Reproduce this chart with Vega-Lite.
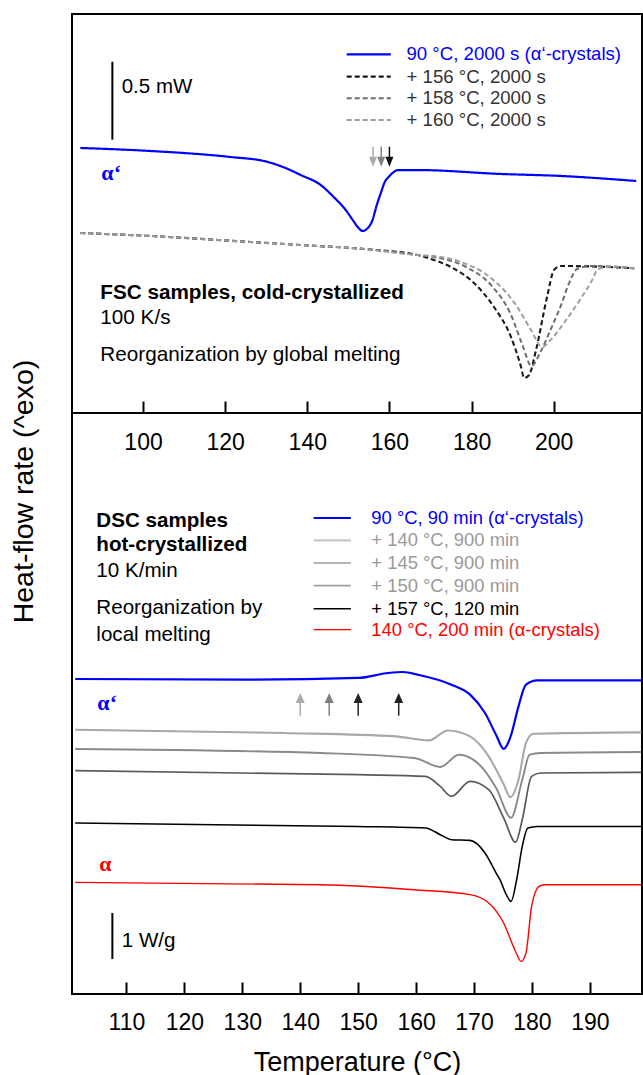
{
  "$schema": "https://vega.github.io/schema/vega-lite/v6.json",
  "background": "white",
  "padding": {"left": 7, "top": 13, "right": 0, "bottom": 0},
  "spacing": 0,
  "bounds": "flush",
  "config": {
    "view": {"stroke": "black", "strokeWidth": 2},
    "font": "Liberation Sans",
    "axisX": {"domain": false, "grid": false, "tickSize": -12, "tickWidth": 2, "tickColor": "black", "labelFontSize": 23, "labelFont": "Liberation Sans", "labelColor": "black", "labelPadding": 30, "labelFlush": false, "labelOverlap": false, "titleFontSize": 27, "titleFontWeight": "normal", "titleFont": "Liberation Sans", "titleColor": "black", "titleY": 76, "titleBaseline": "alphabetic"},
    "axisY": {"labels": false, "ticks": false, "domain": false, "grid": false, "titleFontSize": 28.5, "titleFontWeight": "normal", "titleFont": "Liberation Sans", "titleColor": "black", "titleAngle": 270, "titleAlign": "center", "titleBaseline": "alphabetic", "titleX": -40, "titleY": 78}
  },
  "datasets": {
    "fsc": [
      {"s": "90 °C, 2000 s (α‘-crystals)", "T": 84.72, "q": 2.906},
      {"s": "90 °C, 2000 s (α‘-crystals)", "T": 101.8, "q": 2.873},
      {"s": "90 °C, 2000 s (α‘-crystals)", "T": 121.31, "q": 2.807},
      {"s": "90 °C, 2000 s (α‘-crystals)", "T": 129.9, "q": 2.758},
      {"s": "90 °C, 2000 s (α‘-crystals)", "T": 134.72, "q": 2.686},
      {"s": "90 °C, 2000 s (α‘-crystals)", "T": 138.38, "q": 2.61},
      {"s": "90 °C, 2000 s (α‘-crystals)", "T": 143.26, "q": 2.5},
      {"s": "90 °C, 2000 s (α‘-crystals)", "T": 146.43, "q": 2.368},
      {"s": "90 °C, 2000 s (α‘-crystals)", "T": 149.36, "q": 2.226},
      {"s": "90 °C, 2000 s (α‘-crystals)", "T": 151.07, "q": 2.116},
      {"s": "90 °C, 2000 s (α‘-crystals)", "T": 152.29, "q": 2.039},
      {"s": "90 °C, 2000 s (α‘-crystals)", "T": 153.43, "q": 1.996},
      {"s": "90 °C, 2000 s (α‘-crystals)", "T": 154.48, "q": 2.018},
      {"s": "90 °C, 2000 s (α‘-crystals)", "T": 155.87, "q": 2.116},
      {"s": "90 °C, 2000 s (α‘-crystals)", "T": 156.92, "q": 2.281},
      {"s": "90 °C, 2000 s (α‘-crystals)", "T": 157.9, "q": 2.412},
      {"s": "90 °C, 2000 s (α‘-crystals)", "T": 158.87, "q": 2.533},
      {"s": "90 °C, 2000 s (α‘-crystals)", "T": 159.85, "q": 2.591},
      {"s": "90 °C, 2000 s (α‘-crystals)", "T": 161.07, "q": 2.643},
      {"s": "90 °C, 2000 s (α‘-crystals)", "T": 162.04, "q": 2.664},
      {"s": "90 °C, 2000 s (α‘-crystals)", "T": 166.92, "q": 2.664},
      {"s": "90 °C, 2000 s (α‘-crystals)", "T": 187.16, "q": 2.621},
      {"s": "90 °C, 2000 s (α‘-crystals)", "T": 201.8, "q": 2.599},
      {"s": "90 °C, 2000 s (α‘-crystals)", "T": 220.09, "q": 2.544},
      {"s": "+ 156 °C, 2000 s", "T": 84.72, "q": 1.974},
      {"s": "+ 156 °C, 2000 s", "T": 101.8, "q": 1.941},
      {"s": "+ 156 °C, 2000 s", "T": 126.19, "q": 1.875},
      {"s": "+ 156 °C, 2000 s", "T": 138.38, "q": 1.842},
      {"s": "+ 156 °C, 2000 s", "T": 154.65, "q": 1.795},
      {"s": "+ 156 °C, 2000 s", "T": 166.85, "q": 1.732},
      {"s": "+ 156 °C, 2000 s", "T": 170.82, "q": 1.678},
      {"s": "+ 156 °C, 2000 s", "T": 174.97, "q": 1.601},
      {"s": "+ 156 °C, 2000 s", "T": 180.58, "q": 1.425},
      {"s": "+ 156 °C, 2000 s", "T": 185.46, "q": 1.162},
      {"s": "+ 156 °C, 2000 s", "T": 189.6, "q": 0.833},
      {"s": "+ 156 °C, 2000 s", "T": 192.05, "q": 0.504},
      {"s": "+ 156 °C, 2000 s", "T": 192.78, "q": 0.384},
      {"s": "+ 156 °C, 2000 s", "T": 193.99, "q": 0.417},
      {"s": "+ 156 °C, 2000 s", "T": 195.7, "q": 0.691},
      {"s": "+ 156 °C, 2000 s", "T": 198.38, "q": 1.272},
      {"s": "+ 156 °C, 2000 s", "T": 200.09, "q": 1.568},
      {"s": "+ 156 °C, 2000 s", "T": 201.8, "q": 1.612},
      {"s": "+ 156 °C, 2000 s", "T": 211.55, "q": 1.604},
      {"s": "+ 156 °C, 2000 s", "T": 219.6, "q": 1.587},
      {"s": "+ 158 °C, 2000 s", "T": 84.72, "q": 1.974},
      {"s": "+ 158 °C, 2000 s", "T": 101.8, "q": 1.941},
      {"s": "+ 158 °C, 2000 s", "T": 126.19, "q": 1.875},
      {"s": "+ 158 °C, 2000 s", "T": 138.38, "q": 1.842},
      {"s": "+ 158 °C, 2000 s", "T": 154.65, "q": 1.795},
      {"s": "+ 158 °C, 2000 s", "T": 166.85, "q": 1.732},
      {"s": "+ 158 °C, 2000 s", "T": 170.82, "q": 1.711},
      {"s": "+ 158 °C, 2000 s", "T": 179.11, "q": 1.59},
      {"s": "+ 158 °C, 2000 s", "T": 184.72, "q": 1.404},
      {"s": "+ 158 °C, 2000 s", "T": 189.6, "q": 1.075},
      {"s": "+ 158 °C, 2000 s", "T": 192.38, "q": 0.746},
      {"s": "+ 158 °C, 2000 s", "T": 194.58, "q": 0.515},
      {"s": "+ 158 °C, 2000 s", "T": 196.77, "q": 0.669},
      {"s": "+ 158 °C, 2000 s", "T": 199.21, "q": 0.91},
      {"s": "+ 158 °C, 2000 s", "T": 201.8, "q": 1.184},
      {"s": "+ 158 °C, 2000 s", "T": 203.75, "q": 1.425},
      {"s": "+ 158 °C, 2000 s", "T": 205.7, "q": 1.579},
      {"s": "+ 158 °C, 2000 s", "T": 209.11, "q": 1.612},
      {"s": "+ 158 °C, 2000 s", "T": 219.6, "q": 1.587},
      {"s": "+ 160 °C, 2000 s", "T": 84.72, "q": 1.974},
      {"s": "+ 160 °C, 2000 s", "T": 101.8, "q": 1.941},
      {"s": "+ 160 °C, 2000 s", "T": 126.19, "q": 1.875},
      {"s": "+ 160 °C, 2000 s", "T": 138.38, "q": 1.842},
      {"s": "+ 160 °C, 2000 s", "T": 154.65, "q": 1.795},
      {"s": "+ 160 °C, 2000 s", "T": 166.85, "q": 1.732},
      {"s": "+ 160 °C, 2000 s", "T": 170.82, "q": 1.721},
      {"s": "+ 160 °C, 2000 s", "T": 177.41, "q": 1.656},
      {"s": "+ 160 °C, 2000 s", "T": 184.72, "q": 1.48},
      {"s": "+ 160 °C, 2000 s", "T": 190.82, "q": 1.184},
      {"s": "+ 160 °C, 2000 s", "T": 194.48, "q": 0.91},
      {"s": "+ 160 °C, 2000 s", "T": 197.16, "q": 0.724},
      {"s": "+ 160 °C, 2000 s", "T": 199.21, "q": 0.8},
      {"s": "+ 160 °C, 2000 s", "T": 203.02, "q": 1.02},
      {"s": "+ 160 °C, 2000 s", "T": 206.68, "q": 1.261},
      {"s": "+ 160 °C, 2000 s", "T": 209.11, "q": 1.436},
      {"s": "+ 160 °C, 2000 s", "T": 210.82, "q": 1.579},
      {"s": "+ 160 °C, 2000 s", "T": 213.99, "q": 1.606},
      {"s": "+ 160 °C, 2000 s", "T": 219.6, "q": 1.587}
    ],
    "fscLegend": [
      {"s": "90 °C, 2000 s (α‘-crystals)", "T1": 149.6, "T2": 160.33, "Tt": 164.16, "q": 3.933},
      {"s": "+ 156 °C, 2000 s", "T1": 149.6, "T2": 160.33, "Tt": 164.16, "q": 3.688},
      {"s": "+ 158 °C, 2000 s", "T1": 149.6, "T2": 160.33, "Tt": 164.16, "q": 3.451},
      {"s": "+ 160 °C, 2000 s", "T1": 149.6, "T2": 160.33, "Tt": 164.16, "q": 3.213}
    ],
    "dsc": [
      {"s": "90 °C, 90 min (α‘-crystals)", "T": 101.15, "q": 6.848},
      {"s": "90 °C, 90 min (α‘-crystals)", "T": 130.74, "q": 6.833},
      {"s": "90 °C, 90 min (α‘-crystals)", "T": 150.03, "q": 6.87},
      {"s": "90 °C, 90 min (α‘-crystals)", "T": 155.17, "q": 6.978},
      {"s": "90 °C, 90 min (α‘-crystals)", "T": 157.75, "q": 7.0},
      {"s": "90 °C, 90 min (α‘-crystals)", "T": 160.32, "q": 6.941},
      {"s": "90 °C, 90 min (α‘-crystals)", "T": 166.1, "q": 6.724},
      {"s": "90 °C, 90 min (α‘-crystals)", "T": 169.32, "q": 6.507},
      {"s": "90 °C, 90 min (α‘-crystals)", "T": 171.9, "q": 6.109},
      {"s": "90 °C, 90 min (α‘-crystals)", "T": 173.82, "q": 5.63},
      {"s": "90 °C, 90 min (α‘-crystals)", "T": 175.12, "q": 5.33},
      {"s": "90 °C, 90 min (α‘-crystals)", "T": 175.74, "q": 5.42},
      {"s": "90 °C, 90 min (α‘-crystals)", "T": 176.4, "q": 5.63},
      {"s": "90 °C, 90 min (α‘-crystals)", "T": 177.68, "q": 6.252},
      {"s": "90 °C, 90 min (α‘-crystals)", "T": 178.97, "q": 6.724},
      {"s": "90 °C, 90 min (α‘-crystals)", "T": 180.89, "q": 6.817},
      {"s": "90 °C, 90 min (α‘-crystals)", "T": 198.9, "q": 6.817},
      {"s": "+ 140 °C, 900 min", "T": 101.15, "q": 5.746},
      {"s": "+ 140 °C, 900 min", "T": 137.16, "q": 5.674},
      {"s": "+ 140 °C, 900 min", "T": 156.47, "q": 5.6},
      {"s": "+ 140 °C, 900 min", "T": 162.24, "q": 5.513},
      {"s": "+ 140 °C, 900 min", "T": 165.46, "q": 5.73},
      {"s": "+ 140 °C, 900 min", "T": 169.32, "q": 5.6},
      {"s": "+ 140 °C, 900 min", "T": 172.54, "q": 5.165},
      {"s": "+ 140 °C, 900 min", "T": 175.12, "q": 4.56},
      {"s": "+ 140 °C, 900 min", "T": 176.26, "q": 4.28},
      {"s": "+ 140 °C, 900 min", "T": 177.68, "q": 4.659},
      {"s": "+ 140 °C, 900 min", "T": 178.97, "q": 5.457},
      {"s": "+ 140 °C, 900 min", "T": 180.25, "q": 5.659},
      {"s": "+ 140 °C, 900 min", "T": 198.9, "q": 5.687},
      {"s": "+ 145 °C, 900 min", "T": 101.15, "q": 5.326},
      {"s": "+ 145 °C, 900 min", "T": 143.59, "q": 5.239},
      {"s": "+ 145 °C, 900 min", "T": 159.68, "q": 5.13},
      {"s": "+ 145 °C, 900 min", "T": 164.18, "q": 4.935},
      {"s": "+ 145 °C, 900 min", "T": 167.4, "q": 5.202},
      {"s": "+ 145 °C, 900 min", "T": 170.62, "q": 5.022},
      {"s": "+ 145 °C, 900 min", "T": 173.82, "q": 4.48},
      {"s": "+ 145 °C, 900 min", "T": 176.4, "q": 3.83},
      {"s": "+ 145 °C, 900 min", "T": 178.33, "q": 4.659},
      {"s": "+ 145 °C, 900 min", "T": 179.61, "q": 5.202},
      {"s": "+ 145 °C, 900 min", "T": 181.55, "q": 5.239},
      {"s": "+ 145 °C, 900 min", "T": 198.9, "q": 5.261},
      {"s": "+ 150 °C, 900 min", "T": 101.15, "q": 4.854},
      {"s": "+ 150 °C, 900 min", "T": 150.03, "q": 4.767},
      {"s": "+ 150 °C, 900 min", "T": 161.6, "q": 4.73},
      {"s": "+ 150 °C, 900 min", "T": 164.18, "q": 4.513},
      {"s": "+ 150 °C, 900 min", "T": 166.1, "q": 4.296},
      {"s": "+ 150 °C, 900 min", "T": 169.32, "q": 4.622},
      {"s": "+ 150 °C, 900 min", "T": 172.54, "q": 4.441},
      {"s": "+ 150 °C, 900 min", "T": 175.12, "q": 3.83},
      {"s": "+ 150 °C, 900 min", "T": 177.17, "q": 3.3},
      {"s": "+ 150 °C, 900 min", "T": 178.33, "q": 3.789},
      {"s": "+ 150 °C, 900 min", "T": 179.94, "q": 4.73},
      {"s": "+ 150 °C, 900 min", "T": 181.55, "q": 4.804},
      {"s": "+ 150 °C, 900 min", "T": 198.9, "q": 4.817},
      {"s": "+ 157 °C, 120 min", "T": 101.15, "q": 3.717},
      {"s": "+ 157 °C, 120 min", "T": 150.03, "q": 3.643},
      {"s": "+ 157 °C, 120 min", "T": 161.6, "q": 3.609},
      {"s": "+ 157 °C, 120 min", "T": 164.18, "q": 3.463},
      {"s": "+ 157 °C, 120 min", "T": 166.1, "q": 3.354},
      {"s": "+ 157 °C, 120 min", "T": 169.32, "q": 3.339},
      {"s": "+ 157 °C, 120 min", "T": 171.9, "q": 3.065},
      {"s": "+ 157 °C, 120 min", "T": 173.82, "q": 2.63},
      {"s": "+ 157 °C, 120 min", "T": 174.48, "q": 2.485},
      {"s": "+ 157 °C, 120 min", "T": 175.57, "q": 2.159},
      {"s": "+ 157 °C, 120 min", "T": 176.4, "q": 2.013},
      {"s": "+ 157 °C, 120 min", "T": 177.36, "q": 2.485},
      {"s": "+ 157 °C, 120 min", "T": 178.33, "q": 3.209},
      {"s": "+ 157 °C, 120 min", "T": 179.3, "q": 3.609},
      {"s": "+ 157 °C, 120 min", "T": 180.89, "q": 3.643},
      {"s": "+ 157 °C, 120 min", "T": 198.9, "q": 3.643},
      {"s": "140 °C, 200 min (α-crystals)", "T": 101.15, "q": 2.426},
      {"s": "140 °C, 200 min (α-crystals)", "T": 143.56, "q": 2.376},
      {"s": "140 °C, 200 min (α-crystals)", "T": 159.65, "q": 2.267},
      {"s": "140 °C, 200 min (α-crystals)", "T": 169.34, "q": 2.159},
      {"s": "140 °C, 200 min (α-crystals)", "T": 172.54, "q": 1.978},
      {"s": "140 °C, 200 min (α-crystals)", "T": 175.12, "q": 1.543},
      {"s": "140 °C, 200 min (α-crystals)", "T": 177.04, "q": 0.963},
      {"s": "140 °C, 200 min (α-crystals)", "T": 178.14, "q": 0.709},
      {"s": "140 °C, 200 min (α-crystals)", "T": 178.97, "q": 0.891},
      {"s": "140 °C, 200 min (α-crystals)", "T": 179.94, "q": 1.904},
      {"s": "140 °C, 200 min (α-crystals)", "T": 181.22, "q": 2.339},
      {"s": "140 °C, 200 min (α-crystals)", "T": 182.19, "q": 2.376},
      {"s": "140 °C, 200 min (α-crystals)", "T": 198.9, "q": 2.376}
    ],
    "dscLegend": [
      {"s": "90 °C, 90 min (α‘-crystals)", "T1": 142.31, "T2": 148.75, "Tt": 152.28, "q": 10.348},
      {"s": "+ 140 °C, 900 min", "T1": 142.31, "T2": 148.75, "Tt": 152.28, "q": 9.861},
      {"s": "+ 145 °C, 900 min", "T1": 142.31, "T2": 148.75, "Tt": 152.28, "q": 9.37},
      {"s": "+ 150 °C, 900 min", "T1": 142.31, "T2": 148.75, "Tt": 152.28, "q": 8.876},
      {"s": "+ 157 °C, 120 min", "T1": 142.31, "T2": 148.75, "Tt": 152.28, "q": 8.376},
      {"s": "140 °C, 200 min (α-crystals)", "T1": 142.31, "T2": 148.75, "Tt": 152.28, "q": 7.92}
    ]
  },
  "vconcat": [
    {
      "width": 570,
      "height": 399,
      "resolve": {"scale": {"color": "independent", "fill": "independent", "strokeDash": "independent", "strokeWidth": "independent"}},
      "layer": [
        {
          "data": {"name": "fsc"},
          "mark": {"type": "line", "interpolate": "monotone"},
          "encoding": {
            "x": {"field": "T", "type": "quantitative", "title": null, "scale": {"domain": [82.7, 221.5], "nice": false}, "axis": {"values": [100, 120, 140, 160, 180, 200]}},
            "y": {"field": "q", "type": "quantitative", "title": null, "scale": {"domain": [0, 4.375], "nice": false}},
            "color": {"field": "s", "type": "nominal", "scale": {"domain": ["90 °C, 2000 s (α‘-crystals)", "+ 156 °C, 2000 s", "+ 158 °C, 2000 s", "+ 160 °C, 2000 s"], "range": ["#0000ff", "#1a1a1a", "#6e6e6e", "#9c9c9c"]}, "legend": null},
            "strokeDash": {"field": "s", "type": "nominal", "scale": {"domain": ["90 °C, 2000 s (α‘-crystals)", "+ 156 °C, 2000 s", "+ 158 °C, 2000 s", "+ 160 °C, 2000 s"], "range": [[1, 0], [5, 3], [5, 3], [5, 3]]}, "legend": null},
            "strokeWidth": {"field": "s", "type": "ordinal", "scale": {"domain": ["90 °C, 2000 s (α‘-crystals)", "+ 156 °C, 2000 s", "+ 158 °C, 2000 s", "+ 160 °C, 2000 s"], "range": [2.2, 1.9, 1.8, 1.8]}, "legend": null}
          }
        },
        {
          "data": {"name": "fscLegend"},
          "mark": {"type": "rule"},
          "encoding": {
            "x": {"field": "T1", "type": "quantitative", "title": null, "scale": {"domain": [82.7, 221.5], "nice": false}},
            "x2": {"field": "T2"},
            "y": {"field": "q", "type": "quantitative", "title": null, "scale": {"domain": [0, 4.375], "nice": false}},
            "color": {"field": "s", "type": "nominal", "scale": {"domain": ["90 °C, 2000 s (α‘-crystals)", "+ 156 °C, 2000 s", "+ 158 °C, 2000 s", "+ 160 °C, 2000 s"], "range": ["#0000ff", "#1a1a1a", "#6e6e6e", "#9c9c9c"]}, "legend": null},
            "strokeDash": {"field": "s", "type": "nominal", "scale": {"domain": ["90 °C, 2000 s (α‘-crystals)", "+ 156 °C, 2000 s", "+ 158 °C, 2000 s", "+ 160 °C, 2000 s"], "range": [[1, 0], [5, 3], [5, 3], [5, 3]]}, "legend": null},
            "strokeWidth": {"field": "s", "type": "ordinal", "scale": {"domain": ["90 °C, 2000 s (α‘-crystals)", "+ 156 °C, 2000 s", "+ 158 °C, 2000 s", "+ 160 °C, 2000 s"], "range": [2.2, 1.9, 1.8, 1.8]}, "legend": null}
          }
        },
        {
          "data": {"name": "fscLegend"},
          "mark": {"type": "text", "align": "left", "baseline": "middle", "fontSize": 18.6, "font": "Liberation Sans"},
          "encoding": {
            "x": {"field": "Tt", "type": "quantitative", "title": null, "scale": {"domain": [82.7, 221.5], "nice": false}},
            "y": {"field": "q", "type": "quantitative", "title": null, "scale": {"domain": [0, 4.375], "nice": false}},
            "text": {"field": "s"},
            "fill": {"field": "s", "type": "nominal", "scale": {"domain": ["90 °C, 2000 s (α‘-crystals)", "+ 156 °C, 2000 s", "+ 158 °C, 2000 s", "+ 160 °C, 2000 s"], "range": ["#0000ff", "#333333", "#333333", "#333333"]}, "legend": null}
          }
        },
        {
          "data": {"values": [{"T": 92.53, "q0": 2.997, "q1": 3.852}]},
          "mark": {"type": "rule", "color": "black", "strokeWidth": 2},
          "encoding": {
            "x": {"field": "T", "type": "quantitative", "title": null, "scale": {"domain": [82.7, 221.5], "nice": false}},
            "y": {"field": "q0", "type": "quantitative", "title": null, "scale": {"domain": [0, 4.375], "nice": false}},
            "y2": {"field": "q1"}
          }
        },
        {
          "data": {"values": [{"label": "0.5 mW", "T": 94.8, "q": 3.571}]},
          "mark": {"type": "text", "align": "left", "baseline": "middle", "fontSize": 20.5, "font": "Liberation Sans", "color": "black"},
          "encoding": {
            "x": {"field": "T", "type": "quantitative", "title": null, "scale": {"domain": [82.7, 221.5], "nice": false}},
            "y": {"field": "q", "type": "quantitative", "title": null, "scale": {"domain": [0, 4.375], "nice": false}},
            "text": {"field": "label"}
          }
        },
        {
          "data": {"values": [{"label": "α‘", "T": 89.85, "q": 2.628}]},
          "mark": {"type": "text", "align": "left", "baseline": "middle", "fontSize": 22, "font": "Liberation Serif", "fontWeight": "bold", "color": "#0000ff"},
          "encoding": {
            "x": {"field": "T", "type": "quantitative", "title": null, "scale": {"domain": [82.7, 221.5], "nice": false}},
            "y": {"field": "q", "type": "quantitative", "title": null, "scale": {"domain": [0, 4.375], "nice": false}},
            "text": {"field": "label"}
          }
        },
        {
          "data": {"values": [{"label": "FSC samples, cold-crystallized", "T": 89.6, "q": 1.319}]},
          "mark": {"type": "text", "align": "left", "baseline": "middle", "fontSize": 20.7, "font": "Liberation Sans", "fontWeight": "bold", "color": "black"},
          "encoding": {
            "x": {"field": "T", "type": "quantitative", "title": null, "scale": {"domain": [82.7, 221.5], "nice": false}},
            "y": {"field": "q", "type": "quantitative", "title": null, "scale": {"domain": [0, 4.375], "nice": false}},
            "text": {"field": "label"}
          }
        },
        {
          "data": {"values": [{"label": "100 K/s", "T": 89.6, "q": 1.038}, {"label": "Reorganization by global melting", "T": 89.6, "q": 0.636}]},
          "mark": {"type": "text", "align": "left", "baseline": "middle", "fontSize": 20.7, "font": "Liberation Sans", "color": "black"},
          "encoding": {
            "x": {"field": "T", "type": "quantitative", "title": null, "scale": {"domain": [82.7, 221.5], "nice": false}},
            "y": {"field": "q", "type": "quantitative", "title": null, "scale": {"domain": [0, 4.375], "nice": false}},
            "text": {"field": "label"}
          }
        },
        {
          "data": {"values": [{"T": 156, "tail": 2.92, "head": 2.755}, {"T": 158, "tail": 2.92, "head": 2.755}, {"T": 160, "tail": 2.92, "head": 2.755}]},
          "mark": {"type": "rule", "strokeWidth": 1.5},
          "encoding": {
            "x": {"field": "T", "type": "quantitative", "title": null, "scale": {"domain": [82.7, 221.5], "nice": false}},
            "y": {"field": "tail", "type": "quantitative", "title": null, "scale": {"domain": [0, 4.375], "nice": false}},
            "y2": {"field": "head"},
            "color": {"field": "T", "type": "nominal", "scale": {"domain": [156, 158, 160], "range": ["#aaaaaa", "#808080", "#111111"]}, "legend": null}
          }
        },
        {
          "data": {"values": [{"T": 156, "head": 2.755}, {"T": 158, "head": 2.755}, {"T": 160, "head": 2.755}]},
          "mark": {"type": "point", "shape": "M0,1L-0.8,-1L0.8,-1Z", "filled": true, "size": 100, "opacity": 1, "strokeWidth": 0},
          "encoding": {
            "x": {"field": "T", "type": "quantitative", "title": null, "scale": {"domain": [82.7, 221.5], "nice": false}},
            "y": {"field": "head", "type": "quantitative", "title": null, "scale": {"domain": [0, 4.375], "nice": false}},
            "color": {"field": "T", "type": "nominal", "scale": {"domain": [156, 158, 160], "range": ["#aaaaaa", "#808080", "#111111"]}, "legend": null}
          }
        }
      ]
    },
    {
      "width": 570,
      "height": 581,
      "resolve": {"scale": {"color": "independent", "fill": "independent", "strokeWidth": "independent"}},
      "layer": [
        {
          "data": {"name": "dsc"},
          "mark": {"type": "line", "interpolate": "monotone"},
          "encoding": {
            "x": {"field": "T", "type": "quantitative", "title": "Temperature (°C)", "scale": {"domain": [100.6, 199], "nice": false}, "axis": {"values": [110, 120, 130, 140, 150, 160, 170, 180, 190], "labelPadding": 29}},
            "y": {"field": "q", "type": "quantitative", "title": "Heat-flow rate (^exo)", "scale": {"domain": [0, 12.63], "nice": false}},
            "color": {"field": "s", "type": "nominal", "scale": {"domain": ["90 °C, 90 min (α‘-crystals)", "+ 140 °C, 900 min", "+ 145 °C, 900 min", "+ 150 °C, 900 min", "+ 157 °C, 120 min", "140 °C, 200 min (α-crystals)"], "range": ["#0000ff", "#a8a8a8", "#8a8a8a", "#5a5a5a", "#000000", "#ff0000"]}, "legend": null},
            "strokeWidth": {"field": "s", "type": "ordinal", "scale": {"domain": ["90 °C, 90 min (α‘-crystals)", "+ 140 °C, 900 min", "+ 145 °C, 900 min", "+ 150 °C, 900 min", "+ 157 °C, 120 min", "140 °C, 200 min (α-crystals)"], "range": [2.2, 1.4, 1.4, 1.4, 2, 2.2]}, "legend": null}
          }
        },
        {
          "data": {"name": "dscLegend"},
          "mark": {"type": "rule"},
          "encoding": {
            "x": {"field": "T1", "type": "quantitative", "title": "Temperature (°C)", "scale": {"domain": [100.6, 199], "nice": false}},
            "x2": {"field": "T2"},
            "y": {"field": "q", "type": "quantitative", "title": "Heat-flow rate (^exo)", "scale": {"domain": [0, 12.63], "nice": false}},
            "color": {"field": "s", "type": "nominal", "scale": {"domain": ["90 °C, 90 min (α‘-crystals)", "+ 140 °C, 900 min", "+ 145 °C, 900 min", "+ 150 °C, 900 min", "+ 157 °C, 120 min", "140 °C, 200 min (α-crystals)"], "range": ["#0000ff", "#c8c8c8", "#b4b4b4", "#a0a0a0", "#000000", "#ff0000"]}, "legend": null},
            "strokeWidth": {"field": "s", "type": "ordinal", "scale": {"domain": ["90 °C, 90 min (α‘-crystals)", "+ 140 °C, 900 min", "+ 145 °C, 900 min", "+ 150 °C, 900 min", "+ 157 °C, 120 min", "140 °C, 200 min (α-crystals)"], "range": [2.2, 1.4, 1.4, 1.4, 2, 2.2]}, "legend": null}
          }
        },
        {
          "data": {"name": "dscLegend"},
          "mark": {"type": "text", "align": "left", "baseline": "middle", "fontSize": 18.4, "font": "Liberation Sans"},
          "encoding": {
            "x": {"field": "Tt", "type": "quantitative", "title": "Temperature (°C)", "scale": {"domain": [100.6, 199], "nice": false}},
            "y": {"field": "q", "type": "quantitative", "title": "Heat-flow rate (^exo)", "scale": {"domain": [0, 12.63], "nice": false}},
            "text": {"field": "s"},
            "fill": {"field": "s", "type": "nominal", "scale": {"domain": ["90 °C, 90 min (α‘-crystals)", "+ 140 °C, 900 min", "+ 145 °C, 900 min", "+ 150 °C, 900 min", "+ 157 °C, 120 min", "140 °C, 200 min (α-crystals)"], "range": ["#0000ff", "#9a9a9a", "#9a9a9a", "#9a9a9a", "#000000", "#ff0000"]}, "legend": null}
          }
        },
        {
          "data": {"values": [{"label": "DSC samples", "T": 104.8, "q": 10.274}, {"label": "hot-crystallized", "T": 104.8, "q": 9.767}]},
          "mark": {"type": "text", "align": "left", "baseline": "middle", "fontSize": 20.6, "font": "Liberation Sans", "fontWeight": "bold", "color": "black"},
          "encoding": {
            "x": {"field": "T", "type": "quantitative", "title": "Temperature (°C)", "scale": {"domain": [100.6, 199], "nice": false}},
            "y": {"field": "q", "type": "quantitative", "title": "Heat-flow rate (^exo)", "scale": {"domain": [0, 12.63], "nice": false}},
            "text": {"field": "label"}
          }
        },
        {
          "data": {"values": [{"label": "10 K/min", "T": 104.8, "q": 9.187}, {"label": "Reorganization by", "T": 104.8, "q": 8.391}, {"label": "local melting", "T": 104.8, "q": 7.811}, {"label": "1 W/g", "T": 109.18, "q": 1.143}]},
          "mark": {"type": "text", "align": "left", "baseline": "middle", "fontSize": 20.6, "font": "Liberation Sans", "color": "black"},
          "encoding": {
            "x": {"field": "T", "type": "quantitative", "title": "Temperature (°C)", "scale": {"domain": [100.6, 199], "nice": false}},
            "y": {"field": "q", "type": "quantitative", "title": "Heat-flow rate (^exo)", "scale": {"domain": [0, 12.63], "nice": false}},
            "text": {"field": "label"}
          }
        },
        {
          "data": {"values": [{"T": 107.57, "q0": 0.761, "q1": 1.761}]},
          "mark": {"type": "rule", "color": "black", "strokeWidth": 2},
          "encoding": {
            "x": {"field": "T", "type": "quantitative", "title": "Temperature (°C)", "scale": {"domain": [100.6, 199], "nice": false}},
            "y": {"field": "q0", "type": "quantitative", "title": "Heat-flow rate (^exo)", "scale": {"domain": [0, 12.63], "nice": false}},
            "y2": {"field": "q1"}
          }
        },
        {
          "data": {"values": [{"label": "α‘", "T": 104.98, "q": 6.333}]},
          "mark": {"type": "text", "align": "left", "baseline": "middle", "fontSize": 22, "font": "Liberation Serif", "fontWeight": "bold", "color": "#0000ff"},
          "encoding": {
            "x": {"field": "T", "type": "quantitative", "title": "Temperature (°C)", "scale": {"domain": [100.6, 199], "nice": false}},
            "y": {"field": "q", "type": "quantitative", "title": "Heat-flow rate (^exo)", "scale": {"domain": [0, 12.63], "nice": false}},
            "text": {"field": "label"}
          }
        },
        {
          "data": {"values": [{"label": "α", "T": 105.32, "q": 2.833}]},
          "mark": {"type": "text", "align": "left", "baseline": "middle", "fontSize": 22, "font": "Liberation Serif", "fontWeight": "bold", "color": "#ff0000"},
          "encoding": {
            "x": {"field": "T", "type": "quantitative", "title": "Temperature (°C)", "scale": {"domain": [100.6, 199], "nice": false}},
            "y": {"field": "q", "type": "quantitative", "title": "Heat-flow rate (^exo)", "scale": {"domain": [0, 12.63], "nice": false}},
            "text": {"field": "label"}
          }
        },
        {
          "data": {"values": [{"T": 140, "tail": 6.05, "head": 6.435}, {"T": 145, "tail": 6.05, "head": 6.435}, {"T": 150, "tail": 6.05, "head": 6.435}, {"T": 157, "tail": 6.05, "head": 6.435}]},
          "mark": {"type": "rule", "strokeWidth": 1.5},
          "encoding": {
            "x": {"field": "T", "type": "quantitative", "title": "Temperature (°C)", "scale": {"domain": [100.6, 199], "nice": false}},
            "y": {"field": "tail", "type": "quantitative", "title": "Heat-flow rate (^exo)", "scale": {"domain": [0, 12.63], "nice": false}},
            "y2": {"field": "head"},
            "color": {"field": "T", "type": "nominal", "scale": {"domain": [140, 145, 150, 157], "range": ["#aaaaaa", "#808080", "#222222", "#222222"]}, "legend": null}
          }
        },
        {
          "data": {"values": [{"T": 140, "head": 6.435}, {"T": 145, "head": 6.435}, {"T": 150, "head": 6.435}, {"T": 157, "head": 6.435}]},
          "mark": {"type": "point", "shape": "M0,-1L-0.9,1L0.9,1Z", "filled": true, "size": 100, "opacity": 1, "strokeWidth": 0},
          "encoding": {
            "x": {"field": "T", "type": "quantitative", "title": "Temperature (°C)", "scale": {"domain": [100.6, 199], "nice": false}},
            "y": {"field": "head", "type": "quantitative", "title": "Heat-flow rate (^exo)", "scale": {"domain": [0, 12.63], "nice": false}},
            "color": {"field": "T", "type": "nominal", "scale": {"domain": [140, 145, 150, 157], "range": ["#aaaaaa", "#808080", "#222222", "#222222"]}, "legend": null}
          }
        }
      ]
    }
  ]
}
